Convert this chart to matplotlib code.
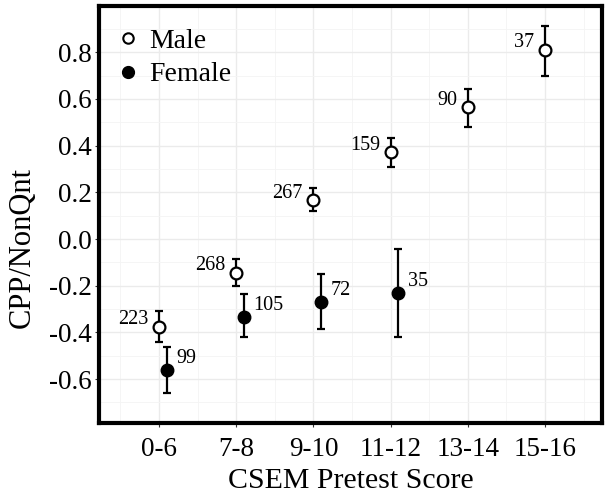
import matplotlib.pyplot as plt
from matplotlib.lines import Line2D
import numpy as np

# score groups on the x axis
categories = ['0-6', '7-8', '9-10', '11-12', '13-14', '15-16']

# male: mean, lower / upper end of error bar, n
male_mean = [-0.376, -0.144, 0.167, 0.371, 0.564, 0.810]
male_low = [-0.440, -0.201, 0.120, 0.310, 0.478, 0.698]
male_high = [-0.310, -0.087, 0.220, 0.434, 0.642, 0.913]
male_n = [223, 268, 267, 159, 90, 37]

# female (only first four groups)
female_mean = [-0.561, -0.333, -0.268, -0.231]
female_low = [-0.658, -0.421, -0.387, -0.420]
female_high = [-0.464, -0.237, -0.150, -0.043]
female_n = [99, 105, 72, 35]

plt.rcParams['font.family'] = ['Liberation Serif', 'DejaVu Serif']

fig = plt.figure(figsize=(6.1, 4.95), dpi=100)
ax = fig.add_axes([99 / 610, 72 / 495, 503 / 610, 417 / 495])

xm = np.arange(len(categories))
xf = np.arange(len(female_mean)) + 0.1

mm = np.array(male_mean)
fm = np.array(female_mean)
male_err = [mm - np.array(male_low), np.array(male_high) - mm]
female_err = [fm - np.array(female_low), np.array(female_high) - fm]

ax.errorbar(xm, mm, yerr=male_err, fmt='o', color='black', mfc='white',
            mec='black', mew=1.6, ms=8.5, elinewidth=1.6, capsize=2.7,
            capthick=1.6, zorder=3)
ax.errorbar(xf, fm, yerr=female_err, fmt='o', color='black', mfc='black',
            mec='black', ms=9, elinewidth=1.6, capsize=2.7, capthick=1.6,
            zorder=3)

# sample sizes
for x, y, n in zip(xm, mm, male_n):
    ax.annotate(str(n), (x, y), xytext=(-7.5, 5), textcoords='offset points',
                ha='right', va='center', fontsize=14.5)
for x, y, n in zip(xf, fm, female_n):
    ax.annotate(str(n), (x, y), xytext=(7, 8), textcoords='offset points',
                ha='left', va='center', fontsize=14.5)

ax.set_xlim(-0.777, 5.738)
ax.set_ylim(-0.788, 0.998)
ax.set_xticks(xm)
ax.set_xticklabels(categories)
ax.set_yticks([-0.6, -0.4, -0.2, 0.0, 0.2, 0.4, 0.6, 0.8])
ax.set_yticklabels(['-0.6', '-0.4', '-0.2', '0.0', '0.2', '0.4', '0.6', '0.8'])
ax.set_xticks(np.arange(-0.5, 6, 1), minor=True)
ax.set_yticks(np.arange(-0.7, 1.0, 0.2), minor=True)

ax.grid(True, which='major', color='#ebebeb', linewidth=1.0, zorder=0)
ax.grid(True, which='minor', color='#f4f4f4', linewidth=0.6, zorder=0)
ax.set_axisbelow(True)

ax.tick_params(which='major', direction='out', length=3, width=0.8,
               color='#333333', labelsize=19.5, pad=2)
ax.tick_params(axis='x', which='major', pad=7)
ax.tick_params(which='minor', length=0)

for s in ax.spines.values():
    s.set_linewidth(3)
    s.set_color('black')

ax.set_xlabel('CSEM Pretest Score', fontsize=21.5, labelpad=4.5)
ax.set_ylabel('CPP/NonQnt', fontsize=22)
ax.yaxis.set_label_coords(-0.123, 0.422)

handles = [
    Line2D([], [], linestyle='none', marker='o', mfc='white', mec='black',
           mew=1.5, ms=7.5, label='Male'),
    Line2D([], [], linestyle='none', marker='o', mfc='black', mec='black',
           ms=8.5, label='Female'),
]
ax.legend(handles=handles, loc='upper left', bbox_to_anchor=(0.036, 0.947),
          frameon=False, fontsize=20, handlelength=0.8, handletextpad=0.35,
          labelspacing=0.3, borderaxespad=0, borderpad=0)

fig.savefig('out.png', dpi=100)
